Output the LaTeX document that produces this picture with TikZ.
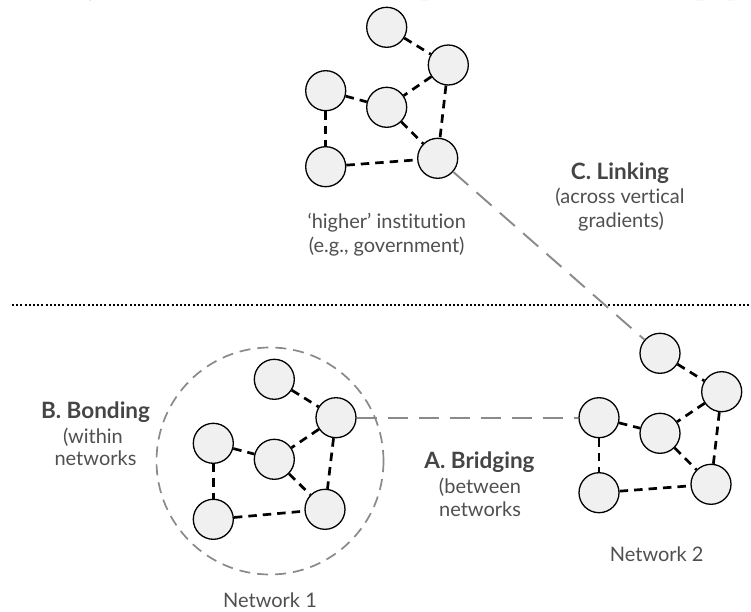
\documentclass[tikz,border=0pt]{standalone}
\usepackage{fontspec}
\setmainfont{Lato}[Ligatures={NoCommon}]
\newfontfamily\serifpaper{Liberation Serif}
\definecolor{nodefill}{HTML}{F0F0F0}
\definecolor{txtgray}{HTML}{505050}
\definecolor{headgray}{HTML}{454545}
\definecolor{linkgray}{HTML}{8A8A8A}
\begin{document}
\begin{tikzpicture}[x=1pt,y=-1pt,
  agent/.style={circle,draw=black,line width=1.3pt,fill=nodefill,minimum size=40pt,inner sep=0pt},
  tie/.style={draw=black,line width=2.7pt,dash pattern=on 8.5pt off 6pt},
  longtie/.style={draw=linkgray,line width=1.9pt,dash pattern=on 20pt off 11pt},
  head/.style={font=\fontsize{22.5}{26}\selectfont\bfseries,text=headgray,anchor=base},
  body/.style={font=\fontsize{20}{24}\selectfont,text=txtgray,anchor=base}]
\useasboundingbox (0,0) rectangle (751,612);
\fill[white] (0,0) rectangle (751,612);
% clipped line of text at the very top
\begin{scope}
\clip (0,0) rectangle (751,612);
\node[anchor=base west,inner sep=0pt,yshift=12pt,font=\serifpaper\fontsize{33}{36}\selectfont] (toptext) at (0,6) {ain way to deconstruct social capital in this research paper};
\end{scope}
% dotted separator
\coordinate (sepL) at (12,305);
\coordinate (sepR) at (751,305);
\draw[line width=2pt,dash pattern=on 2pt off 2.2pt] (sepL) -- (sepR);
% boundary of network 1
\node[circle,draw=linkgray,line width=1.7pt,dash pattern=on 11pt off 7pt,minimum size=227pt,inner sep=0pt] (bound) at (270,461) {};
% top network
\node[agent] (T1) at (386.7,27.3) {};
\node[agent] (T2) at (448.3,65) {};
\node[agent] (T3) at (325.7,90.7) {};
\node[agent] (T4) at (386.7,107.3) {};
\node[agent] (T5) at (325.7,166.7) {};
\node[agent] (T6) at (437.7,158.3) {};
% network 1
\node[agent] (A1) at (274.3,379.3) {};
\node[agent] (A2) at (336,417.7) {};
\node[agent] (A3) at (213.3,443.3) {};
\node[agent] (A4) at (274.3,459.3) {};
\node[agent] (A5) at (213.3,519.3) {};
\node[agent] (A6) at (325,509.3) {};
% network 2
\node[agent] (B1) at (660,353.3) {};
\node[agent] (B2) at (721.7,391.7) {};
\node[agent] (B3) at (599,417.7) {};
\node[agent] (B4) at (660,433.3) {};
\node[agent] (B5) at (599,492.7) {};
\node[agent] (B6) at (711,484.3) {};
% ties
\foreach \p in {T,A,B}{
  \draw[tie] (\p1) -- (\p2);
  \draw[tie] (\p2) -- (\p4);
  \draw[tie] (\p2) -- (\p6);
  \draw[tie] (\p3) -- (\p4);
  \draw[tie] (\p3) -- (\p5);
  \draw[tie] (\p4) -- (\p6);
  \draw[tie] (\p5) -- (\p6);
}
% bridging and linking
\draw[longtie] (A2) -- (B3);
\draw[longtie] (T6) -- (B1);
% labels
\node[body] (hi1) at (386.7,228.3) {‘higher’ institution};
\node[body] (hi2) at (386.7,252) {(e.g., government)};
\node[head] (lk1) at (620,179.3) {C. Linking};
\node[body] (lk2) at (620,204) {(across vertical};
\node[body] (lk3) at (621,227.3) {gradients)};
\node[head] (bo1) at (95.5,418.3) {B. Bonding};
\node[body] (bo2) at (93,443.3) {(within};
\node[body] (bo3) at (95.5,465) {networks};
\node[head] (br1) at (479.5,468.3) {A. Bridging};
\node[body] (br2) at (480,493.3) {(between};
\node[body] (br3) at (480,516.7) {networks};
\node[body] (n1) at (270,607.8) {Network 1};
\node[body] (n2) at (656.7,561.7) {Network 2};
\end{tikzpicture}
\end{document}
